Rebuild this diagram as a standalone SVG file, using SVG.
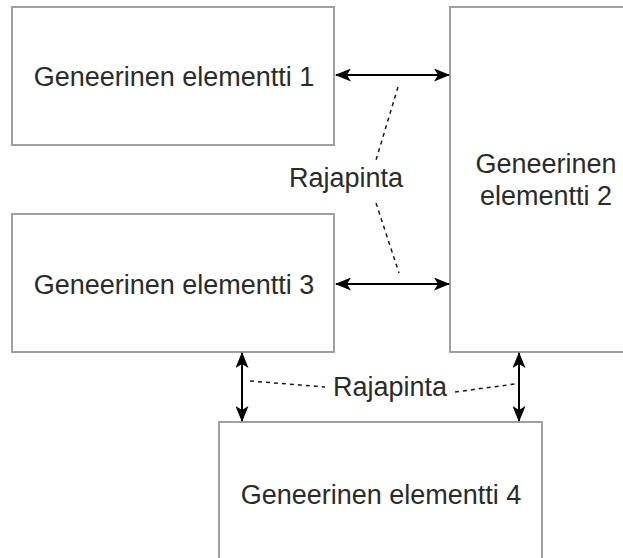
<svg xmlns="http://www.w3.org/2000/svg" width="623" height="558" viewBox="0 0 623 558">
  <style>
    .box { fill: #ffffff; stroke: #a0a0a0; stroke-width: 2; }
    .label { font-family: "Liberation Sans", Arial, sans-serif; font-size: 27px; fill: #2b2b2b; text-anchor: middle; }
    .arrow { fill: none; stroke: #000000; stroke-width: 2; marker-start: url(#head); marker-end: url(#head); }
    .dash { fill: none; stroke: #1a1a1a; stroke-width: 1.5; stroke-dasharray: 4 4; }
  </style>
  <defs>
    <marker id="head" viewBox="0 0 16 13" refX="15" refY="6.5" markerWidth="16" markerHeight="13" markerUnits="userSpaceOnUse" orient="auto-start-reverse">
      <path d="M0,0 L16,6.5 L0,13 L4,6.5 Z" fill="#000000"/>
    </marker>
  </defs>
  <rect width="623" height="558" fill="#ffffff"/>

  <g id="element-1">
    <rect class="box" x="12" y="7" width="322" height="138"/>
    <text class="label" x="174" y="86">Geneerinen elementti 1</text>
  </g>
  <g id="element-2">
    <rect class="box" x="450" y="7" width="180" height="345"/>
    <text class="label" x="546" y="173">Geneerinen</text>
    <text class="label" x="546" y="205">elementti 2</text>
  </g>
  <g id="element-3">
    <rect class="box" x="12" y="214" width="322" height="138"/>
    <text class="label" x="174" y="294">Geneerinen elementti 3</text>
  </g>
  <g id="element-4">
    <rect class="box" x="219" y="422" width="323" height="150"/>
    <text class="label" x="381" y="504">Geneerinen elementti 4</text>
  </g>

  <g id="connectors">
    <line class="arrow" x1="336" y1="75" x2="449" y2="75"/>
    <line class="arrow" x1="336" y1="284" x2="449" y2="284"/>
    <line class="arrow" x1="242" y1="353" x2="242" y2="421"/>
    <line class="arrow" x1="519" y1="353" x2="519" y2="421"/>
    <line class="dash" x1="398" y1="87" x2="376" y2="160"/>
    <line class="dash" x1="376" y1="203" x2="399" y2="273"/>
    <line class="dash" x1="250" y1="381" x2="325" y2="387"/>
    <line class="dash" x1="455" y1="392" x2="515" y2="384"/>
  </g>

  <g id="interface-labels">
    <text class="label" x="346" y="187">Rajapinta</text>
    <text class="label" x="390" y="396">Rajapinta</text>
  </g>
</svg>
